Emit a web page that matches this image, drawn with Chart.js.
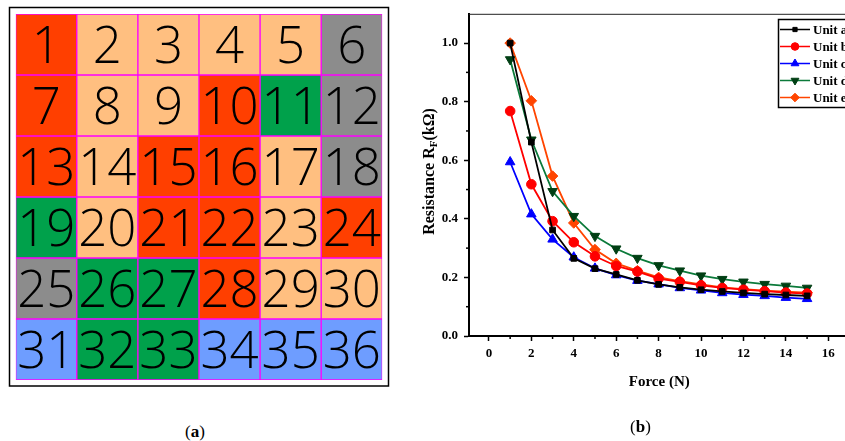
<!DOCTYPE html>
<html><head><meta charset="utf-8">
<script src="https://cdn.jsdelivr.net/npm/chart.js@4/dist/chart.umd.min.js"></script>
<style>
html,body{margin:0;padding:0;width:845px;height:441px;overflow:hidden;background:#fff;}
#wa{position:absolute;left:0;top:0;width:400px;height:400px;}
#wb{position:absolute;left:420px;top:0;width:436px;height:441px;}
.lab{position:absolute;font-family:"Liberation Serif",serif;font-size:17px;line-height:20px;color:#000;}
</style></head><body>
<div id="wa"><canvas id="ca" width="400" height="400"></canvas></div>
<div id="wb"><canvas id="cb" width="436" height="441"></canvas></div>
<div class="lab" style="left:185px;top:422px">(<b>a</b>)</div>
<div class="lab" style="left:630px;top:417px">(<b>b</b>)</div>
<script>
// ---------- Panel (a) data ----------
const gridColumns = ['C1','C2','C3','C4','C5','C6'];
const gridRows = [
  ['R','P','P','P','P','G'],
  ['R','P','P','R','N','G'],
  ['R','P','R','R','P','G'],
  ['N','P','R','R','P','R'],
  ['G','N','N','R','P','P'],
  ['B','N','N','B','B','B']
];
const cellLabels = [
  [1,2,3,4,5,6],
  [7,8,9,10,11,12],
  [13,14,15,16,17,18],
  [19,20,21,22,23,24],
  [25,26,27,28,29,30],
  [31,32,33,34,35,36]
];
const cellHeight = [1,1,1,1,1,1];
const palette = {R:'#FF3F00', P:'#FFBF80', G:'#8C8C8C', N:'#00A14B', B:'#6E9DFF'};

// ---------- Panel (b) data ----------
const force = [1,2,3,4,5,6,7,8,9,10,11,12,13,14,15];
const unitA = [1.000,0.662,0.362,0.265,0.230,0.210,0.190,0.176,0.166,0.158,0.152,0.147,0.143,0.140,0.137];
const unitB = [0.768,0.518,0.392,0.320,0.272,0.239,0.220,0.196,0.185,0.173,0.164,0.158,0.153,0.148,0.145];
const unitC = [0.594,0.416,0.330,0.269,0.231,0.208,0.189,0.177,0.164,0.156,0.147,0.141,0.137,0.131,0.127];
const unitD = [0.944,0.670,0.494,0.409,0.341,0.298,0.266,0.241,0.223,0.206,0.194,0.185,0.177,0.171,0.164];
const unitE = [1.000,0.803,0.546,0.386,0.295,0.248,0.223,0.200,0.187,0.176,0.166,0.160,0.155,0.151,0.148];
const seriesNames = ['Unit a','Unit b','Unit c','Unit d','Unit e'];
const xTicks = [0,2,4,6,8,10,12,14,16];
const xMinor = [1,3,5,7,9,11,13,15,17];
const yTicks = [0,0.2,0.4,0.6,0.8,1.0];
const yMinor = [0.1,0.3,0.5,0.7,0.9];

// ---------- Panel (a) chart ----------
const framePlugin = {
  id:'frame',
  beforeDraw(chart){
    const c = chart.ctx;
    c.save(); c.strokeStyle='#000'; c.lineWidth=1.5;
    c.strokeRect(9.5,7.5,379,378.5);
    c.restore();
  }
};
const numberPlugin = {
  id:'numbers',
  afterDatasetsDraw(chart){
    const c = chart.ctx;
    c.save();
    c.fillStyle='#000';
    c.font='300 51px "Open Sans", "Noto Sans", sans-serif';
    c.textAlign='center'; c.textBaseline='alphabetic';
    chart.data.datasets.forEach((ds,i)=>{
      chart.getDatasetMeta(i).data.forEach((el,j)=>{
        const cy=(el.y+el.base)/2;
        c.fillText(String(cellLabels[i][j]), el.x, cy+18.5);
      });
    });
    c.restore();
  }
};
new Chart(document.getElementById('ca'), {
  type:'bar',
  data:{
    labels:gridColumns,
    datasets:gridRows.map((row,i)=>({
      label:'Row '+(i+1),
      data:cellHeight,
      backgroundColor:row.map(k=>palette[k]),
      borderColor:'#FF00FF',
      borderWidth:1,
      borderSkipped:false,
      barPercentage:1,
      categoryPercentage:1
    }))
  },
  options:{
    responsive:false, animation:false, devicePixelRatio:1,
    layout:{padding:{left:15.7,top:14,right:17.7,bottom:20}},
    scales:{
      x:{display:false, stacked:true},
      y:{display:false, stacked:true, reverse:true, min:0, max:6}
    },
    plugins:{legend:{display:false}, tooltip:{enabled:false}}
  },
  plugins:[framePlugin, numberPlugin]
});

// ---------- Panel (b) chart ----------
const serif = 'Liberation Serif';
const styles = [
  {line:'#000000', pt:'#000000', ps:'rect', r:4, rot:0},
  {line:'#FF0000', pt:'#FF0000', ps:'circle', r:4.8, rot:0},
  {line:'#0000FF', pt:'#0000FF', ps:'triangle', r:5.5, rot:0},
  {line:'#0B7A3A', pt:'#003F14', ps:'triangle', r:5.5, rot:180},
  {line:'#FF4500', pt:'#FF4500', ps:'rectRot', r:5.3, rot:0}
];
const values = [unitA,unitB,unitC,unitD,unitE];

const decoPlugin = {
  id:'deco',
  afterDraw(chart){
    const c = chart.ctx, a = chart.chartArea, xs = chart.scales.x, ys = chart.scales.y;
    c.save();
    // top frame line
    c.strokeStyle='#222'; c.lineWidth=1;
    c.beginPath(); c.moveTo(a.left, a.top+0.5); c.lineTo(a.right, a.top+0.5); c.stroke();
    c.beginPath(); c.moveTo(a.right-0.5, a.top); c.lineTo(a.right-0.5, a.bottom); c.stroke();
    // minor ticks
    c.strokeStyle='#000'; c.lineWidth=1.5;
    xMinor.forEach(v=>{ const px=xs.getPixelForValue(v); if(px<=a.right){ c.beginPath(); c.moveTo(px,a.bottom); c.lineTo(px,a.bottom+3); c.stroke(); }});
    yMinor.forEach(v=>{ const py=ys.getPixelForValue(v); c.beginPath(); c.moveTo(a.left,py); c.lineTo(a.left-3,py); c.stroke(); });
    // y title with subscript
    const big='bold 16px "'+serif+'"', small='bold 11px "'+serif+'"';
    const p1='Resistance R', p2='F', p3='(k\u03A9)';
    c.font=big; const w1=c.measureText(p1).width, w3=c.measureText(p3).width;
    c.font=small; const w2=c.measureText(p2).width;
    const total=w1+w2+w3;
    c.translate(13.5, 171.5);
    c.rotate(-Math.PI/2);
    c.fillStyle='#000'; c.textBaseline='alphabetic'; c.textAlign='left';
    let x0=-total/2;
    c.font=big; c.fillText(p1,x0,0);
    c.font=small; c.fillText(p2,x0+w1,3);
    c.font=big; c.fillText(p3,x0+w1+w2,0);
    c.restore();
    // legend
    c.save();
    const lx=358, ly=19;
    c.fillStyle='#fff'; c.fillRect(lx,ly,100,88);
    c.strokeStyle='#000'; c.lineWidth=1.5; c.strokeRect(lx+0.5,ly+0.5,100,88);
    c.font='bold 13px "'+serif+'"'; c.textBaseline='middle'; c.textAlign='left';
    chart.data.datasets.forEach((ds,i)=>{
      const y=29.5+17*i, st=styles[i];
      c.strokeStyle=st.line; c.lineWidth=1.5;
      c.beginPath(); c.moveTo(lx+2,y); c.lineTo(lx+32,y); c.stroke();
      c.fillStyle=st.pt; c.strokeStyle=st.pt; c.lineWidth=1;
      Chart.helpers.drawPoint(c,{pointStyle:st.ps, radius:st.r-1, rotation:st.rot, borderWidth:1}, lx+17, y);
      c.fillStyle='#000';
      c.fillText(ds.label, lx+35, y+1);
    });
    c.restore();
  }
};

new Chart(document.getElementById('cb'), {
  type:'line',
  data:{
    datasets:values.map((vals,i)=>({
      label:seriesNames[i],
      data:force.map((f,k)=>({x:f, y:vals[k]})),
      borderColor:styles[i].line,
      backgroundColor:styles[i].pt,
      pointBackgroundColor:styles[i].pt,
      pointBorderColor:styles[i].pt,
      pointStyle:styles[i].ps,
      pointRotation:styles[i].rot,
      pointRadius:styles[i].r,
      pointBorderWidth:1,
      borderWidth:1.8,
      tension:0,
      fill:false
    }))
  },
  options:{
    responsive:false, animation:false, devicePixelRatio:1,
    layout:{padding:{left:0,top:12,right:1,bottom:0}},
    scales:{
      x:{
        type:'linear', min:-0.94, max:17,
        afterFit(s){ s.height=105; },
        afterBuildTicks(s){ s.ticks=xTicks.map(v=>({value:v})); },
        ticks:{color:'#000', padding:5, font:{family:serif,size:13,weight:'bold'}, callback:v=>String(v), maxRotation:0},
        grid:{drawOnChartArea:false, tickLength:5, color:'#000', tickWidth:1.5},
        border:{color:'#000', width:2},
        title:{display:true, text:'Force (N)', color:'#000', font:{family:serif,size:15,weight:'bold'}, padding:{top:0,bottom:50}}
      },
      y:{
        min:0, max:1.1,
        afterFit(s){ s.width=49; },
        afterBuildTicks(s){ s.ticks=yTicks.map(v=>({value:v})); },
        ticks:{color:'#000', padding:6, font:{family:serif,size:13,weight:'bold'}, callback:v=>Number(v).toFixed(1)},
        grid:{drawOnChartArea:false, tickLength:5, color:'#000', tickWidth:1.5},
        border:{color:'#000', width:2}
      }
    },
    plugins:{legend:{display:false}, tooltip:{enabled:false}}
  },
  plugins:[decoPlugin]
});
</script>
</body></html>
